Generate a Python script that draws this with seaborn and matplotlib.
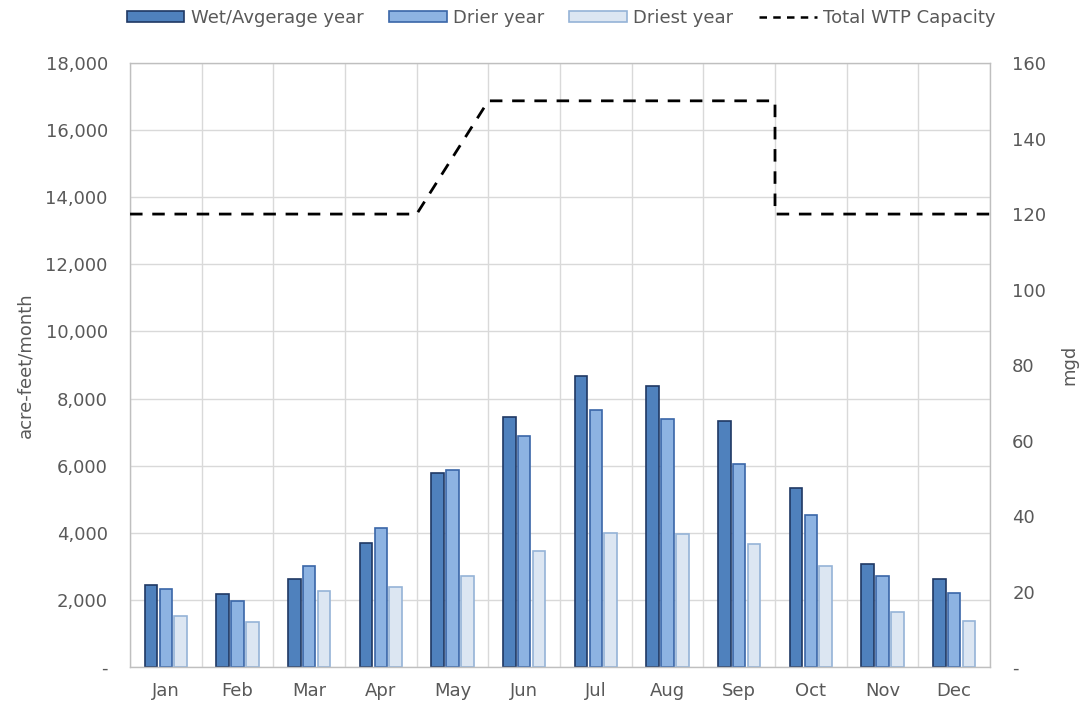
import pandas as pd
import matplotlib
matplotlib.use("Agg")
import matplotlib.pyplot as plt
import matplotlib.ticker as mticker
import seaborn as sns

months = ["Jan", "Feb", "Mar", "Apr", "May", "Jun",
          "Jul", "Aug", "Sep", "Oct", "Nov", "Dec"]
series_names = ["Wet/Avgerage year", "Drier year", "Driest year"]

wet_avg = [2450, 2180, 2620, 3700, 5780, 7450, 8680, 8380, 7320, 5330, 3070, 2620]
drier = [2330, 1970, 3010, 4130, 5880, 6890, 7660, 7390, 6060, 4530, 2710, 2200]
driest = [1520, 1340, 2260, 2380, 2720, 3460, 3990, 3960, 3660, 3010, 1640, 1370]

# WTP capacity (mgd) at the start and end of each month
capacity_start = [120, 120, 120, 120, 120, 150, 150, 150, 150, 120, 120, 120]
capacity_end = [120, 120, 120, 120, 150, 150, 150, 150, 150, 120, 120, 120]

fill_colors = ["#4f81bd", "#8db3e2", "#dce6f2"]
edge_colors = ["#1f3864", "#3a66a8", "#95b3d7"]
text_color = "#595959"
grid_color = "#d9d9d9"
fs = 13

sns.set_theme(style="white")
plt.rcParams["font.family"] = ["DejaVu Sans"]

df = pd.DataFrame({
    "month": months * 3,
    "series": [s for s in series_names for _ in months],
    "value": wet_avg + drier + driest,
})

# capacity line through month edges
cap_x, cap_y = [], []
for i in range(len(months)):
    cap_x += [i - 0.5, i + 0.5]
    cap_y += [capacity_start[i], capacity_end[i]]
cap = pd.DataFrame({"x": cap_x, "y": cap_y})

fig = plt.figure(figsize=(10.81, 7.01), dpi=100)
ax = fig.add_axes([0.1203, 0.0485, 0.7955, 0.8615])

sns.barplot(data=df, x="month", y="value", hue="series",
            hue_order=series_names, order=months,
            palette=dict(zip(series_names, fill_colors)),
            width=0.62, gap=0.15, linewidth=1.2, saturation=1,
            legend=False, ax=ax)
for container, ec in zip(ax.containers, edge_colors):
    for bar in container:
        bar.set_edgecolor(ec)

ax.set_xlim(-0.5, len(months) - 0.5)
ax.set_ylim(0, 18000)
ax.yaxis.set_major_locator(mticker.MultipleLocator(2000))
ax.yaxis.set_major_formatter(mticker.FuncFormatter(
    lambda v, p: "-" if v == 0 else f"{v:,.0f}"))
ax.set_xticks(range(len(months)))
ax.set_xticks([i - 0.5 for i in range(len(months) + 1)], minor=True)
ax.grid(axis="y", which="major", color=grid_color, lw=1)
ax.grid(axis="x", which="minor", color=grid_color, lw=1)
ax.grid(axis="x", which="major", visible=False)
ax.set_axisbelow(True)
ax.tick_params(axis="y", which="both", length=0, labelsize=fs,
               labelcolor=text_color, pad=16)
ax.tick_params(axis="x", which="both", length=0, labelsize=fs,
               labelcolor=text_color, pad=11)
ax.set_xlabel("")
ax.set_ylabel("acre-feet/month", fontsize=fs, color=text_color, labelpad=8)
for sp in ax.spines.values():
    sp.set_color("#bfbfbf")
    sp.set_linewidth(1)

ax2 = ax.twinx()
sns.lineplot(data=cap, x="x", y="y", sort=False, estimator=None,
             color="black", lw=2, linestyle=(0, (4.5, 3.5)), ax=ax2)
ax2.set_ylim(0, 160)
ax2.yaxis.set_major_locator(mticker.MultipleLocator(20))
ax2.yaxis.set_major_formatter(mticker.FuncFormatter(
    lambda v, p: "-" if v == 0 else f"{v:.0f}"))
ax2.tick_params(axis="y", length=0, labelsize=fs, labelcolor=text_color, pad=16)
ax2.set_ylabel("mgd", fontsize=fs, color=text_color, labelpad=10)
ax2.grid(False)
for sp in ax2.spines.values():
    sp.set_visible(False)

handles = [plt.Rectangle((0, 0), 1, 1, facecolor=fc, edgecolor=ec, lw=1.2)
           for fc, ec in zip(fill_colors, edge_colors)]
handles.append(plt.Line2D([], [], color="black", lw=1.8, linestyle=(0, (3, 2.5))))
labels = series_names + ["Total WTP Capacity"]
fig.legend(handles, labels, loc="center", bbox_to_anchor=(0.519, 0.974),
           ncol=4, frameon=False, fontsize=fs, handlelength=3.2,
           handleheight=0.55, handletextpad=0.35, columnspacing=1.4,
           labelcolor=text_color)

fig.savefig("out.png", dpi=100)
